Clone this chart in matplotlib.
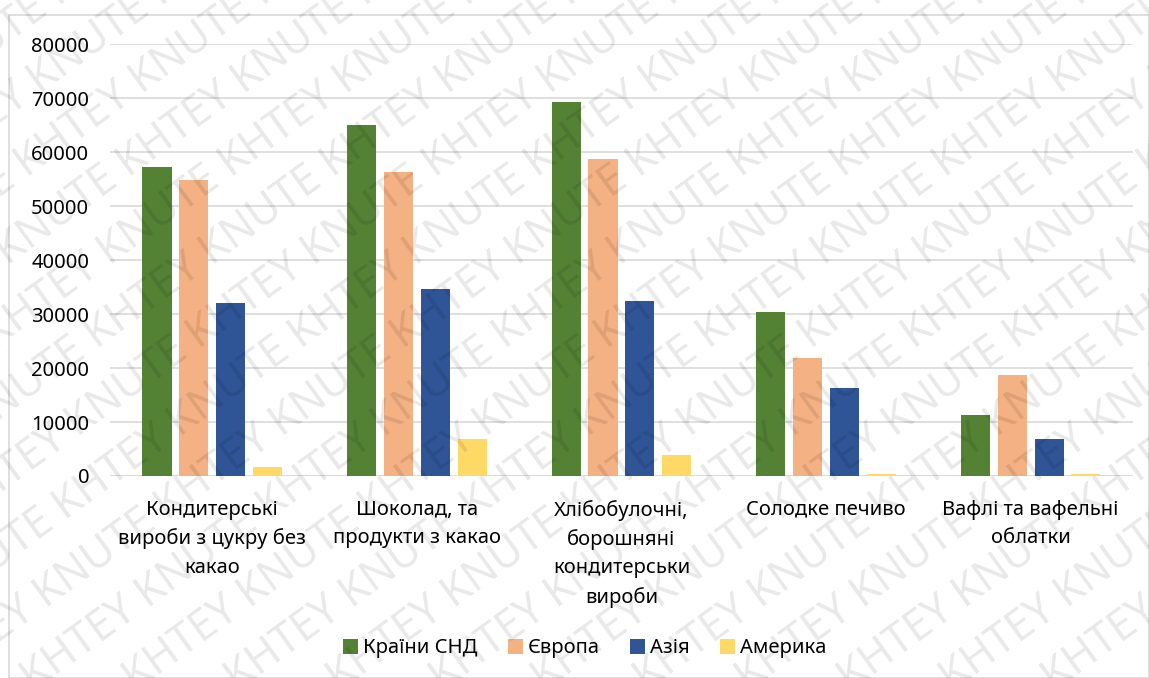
import numpy as np
import matplotlib
matplotlib.use("Agg")
import matplotlib.pyplot as plt
from matplotlib.patches import Rectangle

plt.rcParams['font.family'] = ['Noto Sans', 'DejaVu Sans']

# exports by product group and region
categories = ["Кондитерські\nвироби з цукру без\nкакао",
              "Шоколад, та\nпродукти з какао",
              "Хлібобулочні,\nборошняні\nкондитерськи\nвироби",
              "Солодке печиво",
              "Вафлі та вафельні\nоблатки"]
series_names = ["Країни СНД", "Європа", "Азія", "Америка"]
cis = [57300, 65000, 69300, 30400, 11300]
europe = [54900, 56300, 58700, 21800, 18700]
asia = [32000, 34700, 32500, 16300, 6800]
america = [1600, 6900, 3800, 400, 400]
yticks = [0, 10000, 20000, 30000, 40000, 50000, 60000, 70000, 80000]

colors = ["#548235", "#F4B183", "#2F5597", "#FFD966"]

fig = plt.figure(figsize=(11.49, 6.78), dpi=100)
ax = fig.add_axes([0.0957, 0.298, 0.8903, 0.6366])

x = np.arange(len(categories))
step = 0.18
width = 0.142
for k, (vals, name) in enumerate(zip([cis, europe, asia, america], series_names)):
    ax.bar(x + (k - 1.5) * step, vals, width, color=colors[k], label=name,
           linewidth=0, zorder=2)

ax.set_xlim(-0.5, len(categories) - 0.5)
ax.set_ylim(0, 80000)
ax.set_yticks(yticks)
ax.set_yticklabels([str(v) for v in yticks])
ax.set_xticks(x)
ax.set_xticklabels(categories, linespacing=1.55)
ax.tick_params(axis="both", length=0, labelsize=14.5, colors="black")
ax.tick_params(axis="y", pad=15)
ax.tick_params(axis="x", pad=17)
ax.grid(axis="y", color="#d9d9d9", linewidth=1.2, zorder=0)
ax.set_axisbelow(True)
for s in ax.spines.values():
    s.set_visible(False)
ax.axhline(0, color="#d9d9d9", linewidth=1.2, zorder=1)

leg = fig.legend(loc="center", bbox_to_anchor=(0.509, 0.044), ncol=4, frameon=False,
                 fontsize=14.5, handlelength=0.75, handleheight=0.75,
                 handletextpad=0.25, columnspacing=1.5)

# chart border
fig.patches.append(Rectangle((9 / 1149, 0), 1 - 9 / 1149, 1 - 15 / 678,
                             transform=fig.transFigure, fill=False,
                             edgecolor="#d9d9d9", linewidth=1.2))

# diagonal watermark
angle = 36
spacing = 60 / np.sin(np.radians(angle))
mark = "KHTEY KNUTE " * 10
for x0 in np.arange(-1600, 1149, spacing):
    t = fig.text(x0 / 1149, -0.02, mark, rotation=angle, rotation_mode="anchor",
                 fontsize=31, color="black", alpha=0.09, ha="left", va="baseline",
                 zorder=10)
    t.set_clip_path(fig.patch)

fig.savefig("out.png", dpi=100)
